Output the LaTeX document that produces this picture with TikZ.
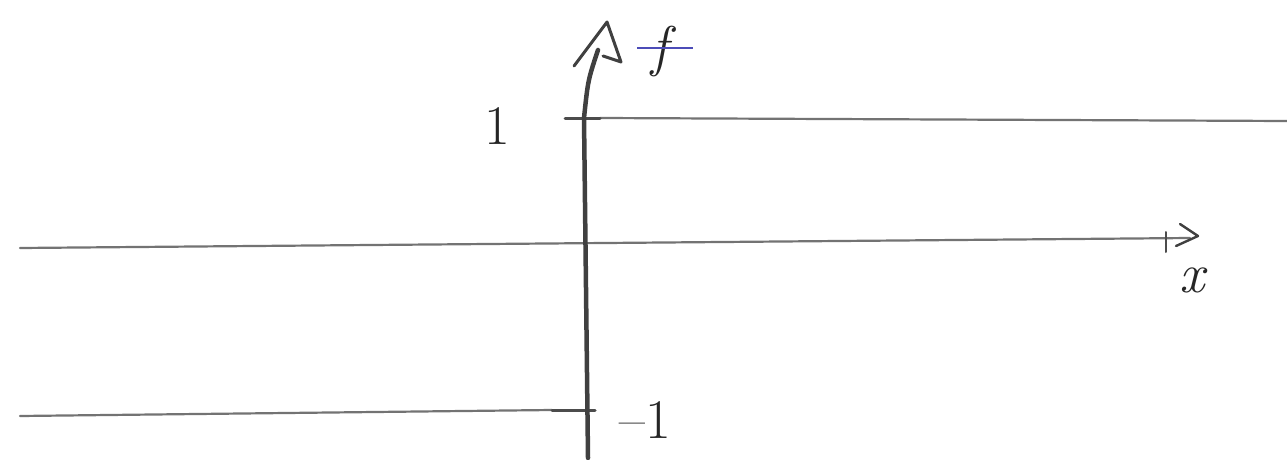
\documentclass[tikz,border=0pt]{standalone}
\begin{document}
\begin{tikzpicture}[x=1pt,y=-1pt,
  axisline/.style={line width=4.5pt,draw=black!75,line cap=round,line join=round},
  plotline/.style={line width=2.2pt,draw=black!55,line cap=round},
  ticksty/.style={line width=3pt,draw=black!70,line cap=round},
  headsty/.style={line width=3pt,draw=black!75,line cap=round,line join=round},
  lbl/.style={font=\fontsize{56}{56}\selectfont,text=black!85,inner sep=0pt}]
\useasboundingbox (0,0) rectangle (1287,460);
% coordinates
\coordinate (ybot) at (588,458);
\coordinate (ymid) at (584,118);
\coordinate (ytop) at (598,50);
\coordinate (ytip) at (607,22);
\coordinate (yla) at (574,66);
\coordinate (yra) at (621,62);
\coordinate (yin) at (603,56);
\coordinate (xl) at (20,248);
\coordinate (xr) at (1190,238);
\coordinate (xtip) at (1198,236);
\coordinate (xua) at (1180,224);
\coordinate (xda) at (1176,246);
\coordinate (xt1) at (1166,232);
\coordinate (xt2) at (1166,252);
\coordinate (u0) at (565,118);
\coordinate (u1) at (600,118);
\coordinate (ur) at (1287,121);
\coordinate (l0) at (20,416);
\coordinate (l1) at (552,410);
\coordinate (l2) at (595,410);
% lines
\draw[plotline] (xl) -- (xr);
\draw[plotline] (u1) -- (ur);
\draw[plotline] (l0) -- (l1);
\draw[ticksty] (u0) -- (u1);
\draw[ticksty] (l1) -- (l2);
\draw[axisline] (ybot) -- (ymid) .. controls (588,80) .. (ytop);
\draw[headsty] (yla) -- (ytip) -- (yra) -- (yin);
\draw[headsty,line width=2.4pt] (xua) -- (xtip) -- (xda);
\draw[ticksty,line width=2pt] (xt1) -- (xt2);
% labels
\node[lbl] (one) at (497,126) {1};
\node[lbl] (mone) at (645,420) {--1};
\node[lbl] (fl) at (660,52) {\itshape f};
\node[lbl] (xlab) at (1192,280) {\itshape x};
\coordinate (bl0) at (637,48);
\coordinate (bl1) at (693,48);
\draw[blue!60!black!70,line width=1.2pt] (bl0) -- (bl1);
\end{tikzpicture}
\end{document}
